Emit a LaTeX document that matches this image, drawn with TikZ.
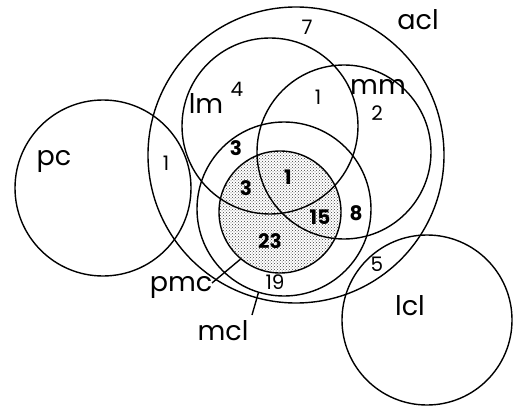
\documentclass[tikz,border=0pt]{standalone}
\usepackage{fontspec}
\setmainfont{Poppins}
\usetikzlibrary{patterns}
\tikzset{
  ring/.style={circle, draw, line width=1.4pt, inner sep=0pt, minimum size=#1},
  biglab/.style={font=\fontsize{27}{27}\selectfont, inner sep=0pt},
  num/.style={font=\fontsize{20}{20}\selectfont, inner sep=0pt},
  bnum/.style={font=\fontsize{20}{20}\selectfont\bfseries, inner sep=0pt},
  leader/.style={line width=1.4pt}
}
\begin{document}
\begin{tikzpicture}[x=1pt,y=-1pt]
\useasboundingbox (0,0) rectangle (519,409);
% shaded pmc
\fill[pattern=crosshatch dots, pattern color=black!75] (280,212) circle[radius=61pt];
\node[ring=176pt] (pc) at (103,188) {};
\node[ring=296pt] (acl) at (296,155) {};
\node[ring=176pt] (lm) at (270,126) {};
\node[ring=174pt] (mm) at (344,152) {};
\node[ring=174pt] (mcl) at (284,209) {};
\node[ring=122pt] (pmc) at (280,212) {};
\node[ring=170pt] (lcl) at (427,320) {};
% labels
\node[biglab] (acllab) at (418,20) {acl};
\node[biglab] (lmlab) at (206,104) {lm};
\node[biglab] (mmlab) at (378,87) {mm};
\node[biglab] (pclab) at (54,161) {pc};
\node[biglab] (lcllab) at (410,306) {lcl};
\node[biglab] (pmclab) at (181,287) {pmc};
\node[biglab] (mcllab) at (223,331) {mcl};
% numbers
\node[num] (n7) at (307,27) {7};
\node[num] (n4) at (237,89) {4};
\node[num] (n1a) at (318,97) {1};
\node[num] (n2) at (377,113) {2};
\node[num] (n1b) at (166,163) {1};
\node[bnum] (n3a) at (236,148) {3};
\node[bnum] (n3b) at (246,188) {3};
\node[bnum] (n1c) at (288,177) {1};
\node[bnum] (n15) at (320,217) {15};
\node[bnum] (n8) at (356,213) {8};
\node[bnum] (n23) at (270,241) {23};
\node[num] (n19) at (275,282) {19};
\node[num] (n5) at (377,264) {5};
% leaders
\coordinate (pmcend) at (212,283);
\coordinate (mclend) at (252,315);
\draw[leader] (pmcend) -- (pmc.230);
\draw[leader] (mclend) -- (mcl.253);
\end{tikzpicture}
\end{document}
